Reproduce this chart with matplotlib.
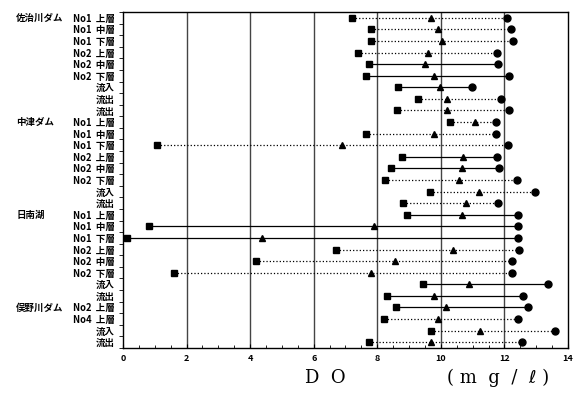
import numpy as np
import matplotlib
matplotlib.use('Agg')
from matplotlib import pyplot as plt
from matplotlib.ticker import MultipleLocator

plt.rcParams['font.family'] = ['Noto Sans CJK JP', 'DejaVu Sans']

# groups and row labels (top to bottom)
groups = ['佐治川ダム', '中津ダム', '日南湖', '俣野川ダム']
group_rows = [0, 9, 17, 25]
row_labels = ['No1  上層', 'No1  中層', 'No1  下層', 'No2  上層', 'No2  中層', 'No2  下層', '流入', '流出', '流出',
              'No1  上層', 'No1  中層', 'No1  下層', 'No2  上層', 'No2  中層', 'No2  下層', '流入', '流出',
              'No1  上層', 'No1  中層', 'No1  下層', 'No2  上層', 'No2  中層', 'No2  下層', '流入', '流出',
              'No2  上層', 'No4  上層', '流入', '流出']

# DO (mg/l): minimum, mean, maximum
do_min = [7.2, 7.8, 7.8, 7.4, 7.75, 7.65, 8.65, 9.28, 8.63,
          10.3, 7.66, 1.07, 8.77, 8.43, 8.24, 9.65, 8.81,
          8.93, 0.82, 0.13, 6.7, 4.18, 1.6, 9.43, 8.3,
          8.58, 8.2, 9.68, 7.75]
do_mean = [9.7, 9.9, 10.05, 9.6, 9.5, 9.8, 9.97, 10.18, 10.2,
           11.07, 9.8, 6.9, 10.7, 10.66, 10.57, 11.2, 10.8,
           10.66, 7.9, 4.37, 10.38, 8.55, 7.8, 10.88, 9.78,
           10.16, 9.9, 11.23, 9.68]
do_max = [12.07, 12.2, 12.27, 11.77, 11.8, 12.15, 10.97, 11.9, 12.15,
          11.75, 11.75, 12.1, 11.76, 11.82, 12.4, 12.96, 11.8,
          12.43, 12.43, 12.43, 12.45, 12.23, 12.23, 13.36, 12.6,
          12.74, 12.43, 13.6, 12.55]
# line style of each row
styles = [':', ':', ':', ':', '-', '-', '-', ':', ':',
          ':', ':', ':', '-', '-', ':', ':', ':',
          '-', '-', '-', ':', ':', ':', '-', '-',
          '-', ':', ':', ':']

n = len(row_labels)
ypos = n - 0.5 - np.arange(n)

fig = plt.figure(figsize=(5.79, 3.97), dpi=100)
ax = fig.add_axes([0.2124, 0.1234, 0.7686, 0.8464])

for x in range(2, 14, 2):
    ax.axvline(x, color='#444444', lw=1.0, zorder=1)

for i in range(n):
    ax.plot([do_min[i], do_max[i]], [ypos[i], ypos[i]], ls=styles[i], color='black', lw=0.9, zorder=2)
ax.plot(do_min, ypos, 's', color='black', ms=5, zorder=3)
ax.plot(do_mean, ypos, '^', color='black', ms=5, zorder=3)
ax.plot(do_max, ypos, 'o', color='black', ms=5, zorder=3)

ax.set_xlim(0, 14)
ax.set_ylim(0, n)
ax.set_xticks(range(0, 15, 2))
ax.xaxis.set_minor_locator(MultipleLocator(0.5))
ax.tick_params(axis='x', which='both', direction='in', labelsize=6.5, length=3, pad=4)
ax.tick_params(axis='x', which='minor', length=2)
for lab in ax.get_xticklabels():
    lab.set_fontweight('bold')
ax.set_yticks(ypos)
ax.set_yticklabels(row_labels, fontsize=6.8, fontweight='bold')
ax.set_yticks(np.arange(0, n + 1), minor=True)
ax.tick_params(axis='y', which='major', length=0, pad=6)
ax.tick_params(axis='y', which='minor', direction='out', length=3)
for s in ax.spines.values():
    s.set_linewidth(1.0)

for g, r in zip(groups, group_rows):
    ax.text(-3.36, ypos[r], g, fontsize=6.8, fontweight='bold', ha='left', va='center',
            transform=ax.transData, clip_on=False)

serif = ['DejaVu Serif', 'DejaVu Sans', 'Noto Sans CJK JP']
fig.text(0.527, 0.025, 'D  O', fontsize=13, family=serif, ha='left', va='bottom')
fig.text(0.772, 0.025, '( m  g  /  ℓ )', fontsize=13, family=serif, ha='left', va='bottom')

fig.savefig('out.png', dpi=100)
